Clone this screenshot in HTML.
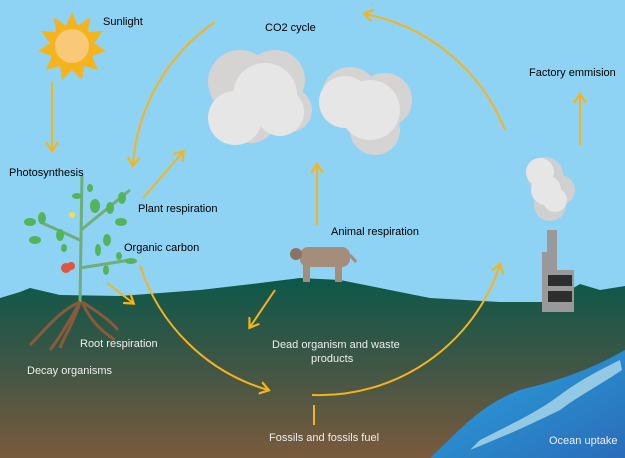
<!DOCTYPE html><html><head><style>body{margin:0}svg{display:block}text{font-family:"Liberation Sans",sans-serif;font-size:11px}</style></head><body>
<svg width="625" height="458" viewBox="0 0 625 458" xmlns="http://www.w3.org/2000/svg">
<defs>
<linearGradient id="g" x1="0" y1="0" x2="0" y2="1"><stop offset="0" stop-color="#0d5849"/><stop offset="0.45" stop-color="#3b5646"/><stop offset="1" stop-color="#7a5a3c"/></linearGradient>
<linearGradient id="o" x1="0" y1="0" x2="1" y2="1"><stop offset="0" stop-color="#2aa6e0"/><stop offset="1" stop-color="#2a6cb8"/></linearGradient>
<marker id="a" markerWidth="14" markerHeight="14" refX="8" refY="7" orient="auto" markerUnits="userSpaceOnUse"><path d="M0,1 L9,7 L0,13" fill="none" stroke="#f5b31c" stroke-width="2.2"/></marker>
</defs>
<rect width="625" height="458" fill="#8fd3f4"/>
<path d="M0,298 L20,292 L30,288 L60,295 L120,296 L200,290 L260,283 L300,278 L340,280 L380,288 L430,298 L500,302 L545,302 L560,296 L580,284 L600,290 L625,286 L625,458 L0,458Z" fill="url(#g)"/>
<path d="M625,350 C590,370 560,380 520,390 C480,405 460,430 430,458 L625,458Z" fill="url(#o)"/>
<path d="M480,440 C520,420 540,410 560,395 C580,380 600,370 620,360 L622,370 C600,385 580,395 560,410 C530,425 500,438 470,450Z" fill="#a6d5e8" opacity="0.85"/>
<g transform="translate(72,46)"><polygon points="0,-34 6,-20 18,-29 16,-14 31,-15 22,-3 34,5 20,10 26,24 12,20 10,34 0,24 -10,34 -12,20 -26,24 -20,10 -34,5 -22,-3 -31,-15 -16,-14 -18,-29 -6,-20" fill="#f5b31c"/><circle r="17" fill="#f7c978"/></g>
<g fill="#d6d3d3"><circle cx="240" cy="82" r="32"/><circle cx="275" cy="80" r="30"/><circle cx="290" cy="110" r="22"/><circle cx="250" cy="115" r="28"/><circle cx="350" cy="95" r="28"/><circle cx="385" cy="100" r="27"/><circle cx="375" cy="130" r="25"/></g>
<g fill="#e6e6e6"><circle cx="265" cy="95" r="32"/><circle cx="235" cy="118" r="27"/><circle cx="280" cy="112" r="24"/><circle cx="345" cy="102" r="26"/><circle cx="370" cy="110" r="30"/></g>
<g fill="#d0d0d0"><circle cx="545" cy="175" r="18"/><circle cx="560" cy="190" r="15"/><circle cx="550" cy="205" r="16"/></g>
<g fill="#e6e6e6"><circle cx="540" cy="172" r="14"/><circle cx="546" cy="190" r="15"/><circle cx="555" cy="200" r="12"/></g>
<rect x="547" y="230" width="10" height="25" fill="#999"/><rect x="542" y="252" width="15" height="60" fill="#999"/><rect x="542" y="270" width="32" height="42" fill="#999"/>
<rect x="548" y="275" width="24" height="11" fill="#2e2e2e"/><rect x="548" y="291" width="24" height="11" fill="#2e2e2e"/>
<g fill="none" stroke="#f5b31c" stroke-width="2" marker-end="url(#a)">
<path d="M215,22 A190,190 0 0 0 133,165"/>
<path d="M140,265 A190,190 0 0 0 268,390"/>
<path d="M312,395 A190,190 0 0 0 500,265"/>
<path d="M505,130 A190,190 0 0 0 365,14"/>
<path d="M52,82 L52,150"/>
<path d="M143,198 L183,152"/>
<path d="M107,283 L133,303"/>
<path d="M317,225 L317,165"/>
<path d="M275,290 L250,327"/>
<path d="M580,145 L580,95"/>
</g>
<path d="M314,405 L314,425" stroke="#f5b31c" stroke-width="2"/>
<g stroke="#6fae78" stroke-width="3" fill="none"><path d="M80,302 L82,175"/><path d="M80,240 L40,222"/><path d="M81,230 L130,190"/><path d="M80,268 L130,260"/></g>
<g fill="#54b45c"><ellipse cx="30" cy="222" rx="6" ry="4"/><ellipse cx="42" cy="218" rx="4" ry="6"/><ellipse cx="60" cy="235" rx="4" ry="6"/><ellipse cx="35" cy="240" rx="6" ry="4"/><ellipse cx="95" cy="206" rx="5" ry="7"/><ellipse cx="110" cy="208" rx="4" ry="6"/><ellipse cx="121" cy="222" rx="6" ry="4"/><ellipse cx="122" cy="198" rx="4" ry="6"/><ellipse cx="77" cy="196" rx="5" ry="3"/><ellipse cx="90" cy="188" rx="3" ry="4"/><ellipse cx="98" cy="250" rx="3" ry="6"/><ellipse cx="131" cy="261" rx="6" ry="3"/><ellipse cx="106" cy="270" rx="3" ry="5"/><ellipse cx="119" cy="256" rx="3" ry="4"/><ellipse cx="64" cy="248" rx="3" ry="4"/><ellipse cx="107" cy="240" rx="4" ry="6"/></g>
<circle cx="66" cy="268" r="5" fill="#e2553c"/><circle cx="71" cy="266" r="4" fill="#e2553c"/><circle cx="72" cy="215" r="3" fill="#f2e13a"/>
<g stroke="#8a5a3a" stroke-width="3" fill="none"><path d="M80,302 C60,310 45,330 30,345"/><path d="M80,302 C75,320 65,335 60,348"/><path d="M82,302 C90,320 100,330 115,340"/><path d="M82,302 C95,310 110,320 118,330"/><path d="M80,302 C70,320 58,340 50,350"/></g>
<g fill="#a48d7a"><rect x="300" y="247" width="50" height="20" rx="8"/><rect x="303" y="260" width="7" height="22"/><rect x="335" y="260" width="7" height="22"/><circle cx="296" cy="254" r="6" fill="#8a7463"/><path d="M350,255 L356,262" stroke="#a48d7a" stroke-width="3"/></g>
<text x="103" y="25" font-size="10.5">Sunlight</text>
<text x="265" y="31">CO2 cycle</text>
<text x="529" y="76" font-size="10.5">Factory emmision</text>
<text x="9" y="176" font-size="10.5">Photosynthesis</text>
<text x="138" y="212" font-size="10.5">Plant respiration</text>
<text x="124" y="251" font-size="10.5">Organic carbon</text>
<text x="331" y="235" font-size="10.5">Animal respiration</text>
<g fill="#eee" font-size="10.5"><text x="80" y="347">Root respiration</text>
<text x="27" y="374">Decay organisms</text>
<text x="272" y="348">Dead organism and waste</text>
<text x="311" y="362">products</text>
<text x="269" y="441">Fossils and fossils fuel</text>
<text x="549" y="444">Ocean uptake</text></g>
</svg></body></html>
